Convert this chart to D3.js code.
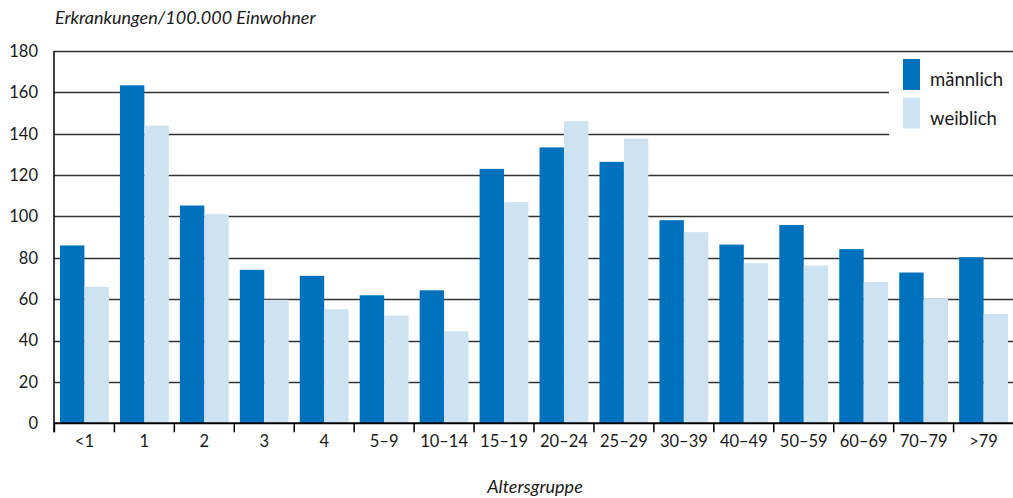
<!DOCTYPE html>
<html>
<head>
<meta charset="utf-8">
<script src="https://cdn.jsdelivr.net/npm/d3@7"></script>
<style>
  body { margin: 0; background: #fff; }
  text { font-family: Lato, "Open Sans", sans-serif; fill: #1a1a1a; }
</style>
</head>
<body>
<div id="chart"></div>
<script>
// Altersgruppen und Werte (Erkrankungen/100.000 Einwohner)
const groups = ["<1", "1", "2", "3", "4", "5–9", "10–14", "15–19", "20–24", "25–29",
                "30–39", "40–49", "50–59", "60–69", "70–79", ">79"];
const maennlich = [86, 163.4, 105.3, 74.2, 71.3, 61.9, 64.3, 123, 133.4, 126.4,
                   98.2, 86.4, 95.9, 84.2, 72.9, 80.3];
const weiblich = [66, 143.9, 101.1, 59.7, 55.2, 52.1, 44.5, 106.9, 146.1, 137.6,
                  92.4, 77.4, 76.3, 68.4, 60.3, 52.9];
const yTicks = [0, 20, 40, 60, 80, 100, 120, 140, 160, 180];
const series = ["männlich", "weiblich"];

const width = 1013, height = 498;
const margin = {top: 51, right: -1, bottom: 74, left: 54};
const colors = {"männlich": "#0071bc", "weiblich": "#cde3f1"};

const svg = d3.select("#chart").append("svg")
    .attr("width", width)
    .attr("height", height);

const x = d3.scaleBand()
    .domain(groups)
    .range([margin.left, width - margin.right])
    .paddingInner(0.185)
    .paddingOuter(0.1);

const x1 = d3.scaleBand()
    .domain(series)
    .range([0, x.bandwidth()]);

const y = d3.scaleLinear()
    .domain([0, 180])
    .range([height - margin.bottom - 0.7, margin.top]);

// Gitterlinien (unter der Legende abgeschnitten)
svg.append("g")
    .selectAll("line")
    .data(yTicks.filter(d => d > 0))
    .enter()
    .append("line")
    .attr("x1", margin.left)
    .attr("x2", d => (d === 160 || d === 140) ? 889 : width)
    .attr("y1", d => Math.round(y(d)) + 0.5)
    .attr("y2", d => Math.round(y(d)) + 0.5)
    .attr("stroke", "#333")
    .attr("stroke-width", 1.6);

// Balken
const rows = groups.map((g, i) => ({group: g, values: [
  {key: "männlich", value: maennlich[i]},
  {key: "weiblich", value: weiblich[i]}
]}));

const band = svg.append("g")
    .selectAll("g")
    .data(rows)
    .enter()
    .append("g")
    .attr("transform", d => "translate(" + x(d.group) + ",0)");

band.selectAll("rect")
    .data(d => d.values)
    .enter()
    .append("rect")
    .attr("x", d => x1(d.key))
    .attr("width", x1.bandwidth())
    .attr("y", d => y(d.value))
    .attr("height", d => y(0) - y(d.value))
    .attr("fill", d => colors[d.key]);

// Achsen
const xAxis = svg.append("g")
    .attr("transform", "translate(0," + y(0) + ")")
    .call(d3.axisBottom(x).tickSize(0).tickPadding(12));
xAxis.select(".domain").remove();
xAxis.selectAll("text")
    .attr("font-size", 16.5)
    .style("font-family", "Lato, sans-serif");

// Trennstriche zwischen den Gruppen
svg.append("g")
    .selectAll("line")
    .data(groups)
    .enter()
    .append("line")
    .attr("x1", d => x(d) - x.step() * x.paddingInner() / 2)
    .attr("x2", d => x(d) - x.step() * x.paddingInner() / 2)
    .attr("y1", y(0))
    .attr("y2", y(0) + 9)
    .attr("stroke", "#000")
    .attr("stroke-width", 1.5);

svg.append("line")
    .attr("x1", margin.left).attr("x2", width)
    .attr("y1", y(0)).attr("y2", y(0))
    .attr("stroke", "#000").attr("stroke-width", 2);

svg.append("line")
    .attr("x1", margin.left).attr("x2", margin.left)
    .attr("y1", y(180)).attr("y2", y(0) + 9)
    .attr("stroke", "#000").attr("stroke-width", 1.5);

const yAxis = svg.append("g")
    .attr("transform", "translate(" + (margin.left - 16) + ",0)")
    .call(d3.axisLeft(y).tickValues(yTicks).tickSize(0).tickPadding(0));
yAxis.select(".domain").remove();
yAxis.selectAll("text")
    .attr("font-size", 16.5)
    .style("font-family", "Lato, sans-serif");

// Legende
const legend = svg.append("g")
    .selectAll("g")
    .data(series)
    .enter()
    .append("g")
    .attr("transform", (d, i) => "translate(903," + (59 + i * 38.5) + ")");

legend.append("rect")
    .attr("width", 17)
    .attr("height", 31)
    .attr("fill", d => colors[d]);

legend.append("text")
    .attr("x", 27)
    .attr("y", 27)
    .attr("font-size", 18.5)
    .text(d => d);

// Achsentitel
svg.append("text")
    .attr("x", 55)
    .attr("y", 24)
    .attr("font-size", 18)
    .style("font-style", "italic")
    .text("Erkrankungen/100.000 Einwohner");

svg.append("text")
    .attr("x", 535)
    .attr("y", 493)
    .attr("text-anchor", "middle")
    .attr("font-size", 18)
    .style("font-style", "italic")
    .text("Altersgruppe");
</script>
</body>
</html>
